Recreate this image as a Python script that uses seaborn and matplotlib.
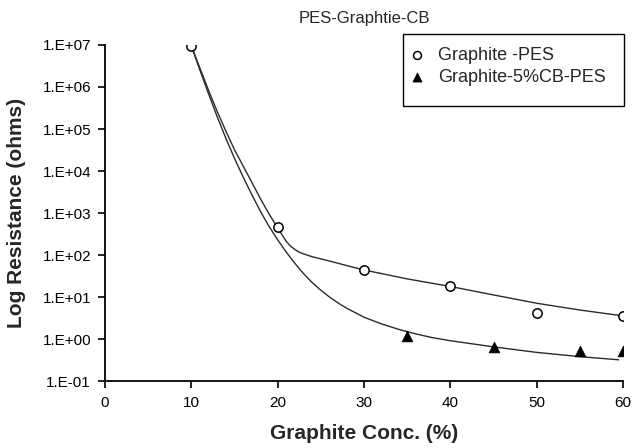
import matplotlib
matplotlib.use("Agg")
import matplotlib.pyplot as plt
from matplotlib.patches import Rectangle
import seaborn as sns

# measured points
conc_pes = [10, 20, 30, 40, 50, 60]
res_pes = [9.6e6, 4.6e2, 43, 18, 4.2, 3.45]
conc_cb = [35, 45, 55, 60]
res_cb = [1.15, 0.645, 0.526, 0.526]

# trend curves
trend_pes_x = [10, 11, 12, 13, 14, 15, 16, 17, 18, 19, 20, 21, 21.5, 22, 22.5, 23, 24, 25, 26,
               28, 30, 35, 40, 45, 50, 55, 60]
trend_pes_y = [9.5e6, 2.8e6, 8.3e5, 2.6e5, 8.9e4, 3.2e4, 1.32e4, 5.4e3, 2.2e3, 9.5e2, 4.4e2,
               2.1e2, 1.62e2, 1.35e2, 1.17e2, 1.06e2, 91, 81, 72, 56, 44, 27, 17.8, 11.2, 7.1,
               4.9, 3.55]
trend_cb_x = [10, 11, 12, 13, 14, 15, 16, 17, 18, 19, 20, 21, 22, 23, 24, 25, 26, 27, 28, 30,
              32, 34, 36, 38, 40, 45, 50, 55, 59.5]
trend_cb_y = [9.5e6, 2.5e6, 6.8e5, 1.95e5, 6.0e4, 2.0e4, 7.2e3, 2.75e3, 1.1e3, 4.8e2, 2.3e2,
              1.17e2, 63, 36, 22, 14.5, 10, 7.2, 5.4, 3.3, 2.3, 1.7, 1.32, 1.07, 0.91, 0.65,
              0.48, 0.38, 0.32]

x_ticks = [0, 10, 20, 30, 40, 50, 60]
y_ticks = [1e-1, 1e0, 1e1, 1e2, 1e3, 1e4, 1e5, 1e6, 1e7]
y_tick_labels = ["1.E-01", "1.E+00", "1.E+01", "1.E+02", "1.E+03", "1.E+04", "1.E+05",
                 "1.E+06", "1.E+07"]

sns.set_style("ticks")
plt.rcParams["font.family"] = ["Liberation Sans", "DejaVu Sans"]

W, H = 634, 448
fig = plt.figure(figsize=(W / 100, H / 100), dpi=100)
ax = fig.add_axes([105 / W, 1 - 381 / H, 518 / W, 336 / H])

line_color = "#2b2b2b"
sns.lineplot(x=trend_pes_x, y=trend_pes_y, ax=ax, sort=False, estimator=None,
             color=line_color, linewidth=1.0, legend=False)
sns.lineplot(x=trend_cb_x, y=trend_cb_y, ax=ax, sort=False, estimator=None,
             color=line_color, linewidth=1.0, legend=False)

sns.scatterplot(x=conc_pes, y=res_pes, ax=ax, marker="o", s=45, facecolor="white",
                edgecolor="black", linewidth=1.1, label="Graphite -PES", zorder=5)
sns.scatterplot(x=conc_cb, y=res_cb, ax=ax, marker="^", s=60, color="black",
                edgecolor="black", linewidth=0.5, label="Graphite-5%CB-PES", zorder=5)

ax.set_yscale("log")
ax.set_xlim(0, 60)
ax.set_ylim(1e-1, 1e7)
ax.set_xticks(x_ticks)
ax.set_xticklabels([str(v) for v in x_ticks])
ax.set_yticks(y_ticks)
ax.set_yticklabels(y_tick_labels)
ax.minorticks_off()
ax.tick_params(axis="both", direction="out", length=5, width=1.2, labelsize=11,
               colors="black")
ax.tick_params(axis="y", pad=5)
ax.tick_params(axis="x", pad=6)

for side in ["top", "right"]:
    ax.spines[side].set_visible(False)
for side in ["left", "bottom"]:
    ax.spines[side].set_color("black")
    ax.spines[side].set_linewidth(1.3)

ax.set_xlabel("Graphite Conc. (%)", fontsize=15, fontweight="bold")
ax.xaxis.set_label_coords(0.5, (381 - 433) / 336)
ax.xaxis.label.set_va("center")
ax.set_ylabel("Log Resistance (ohms)", fontsize=15, fontweight="bold")
ax.yaxis.set_label_coords((17 - 105) / 518, 0.5)
ax.yaxis.label.set_va("center")
ax.yaxis.label.set_ha("center")

fig.text(364 / W, 1 - 18 / H, "PES-Graphtie-CB", fontsize=12, ha="center", va="center")

leg = ax.legend(loc="upper left", bbox_to_anchor=(403 / W, 1 - 40 / H),
                bbox_transform=fig.transFigure, frameon=False, fontsize=13,
                borderpad=0.37, handlelength=0.8, handletextpad=0.77, labelspacing=0.28,
                borderaxespad=0, markerscale=0.85)
fig.patches.append(Rectangle((403 / W, 1 - 106 / H), 221 / W, 72 / H,
                             transform=fig.transFigure, fill=False, edgecolor="black",
                             linewidth=1.0))

fig.savefig("out.png", dpi=100)
